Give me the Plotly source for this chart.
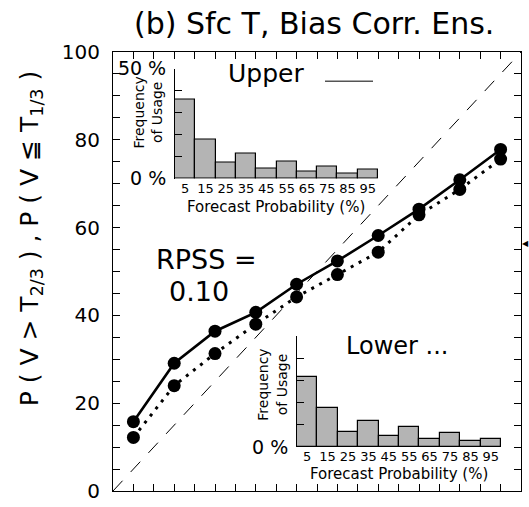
import plotly.graph_objects as go

# ---------------- data ----------------
prob_bins = [5, 15, 25, 35, 45, 55, 65, 75, 85, 95]
upper_obs = [15.8, 29.1, 36.4, 40.7, 47.1, 52.4, 58.2, 64.2, 70.9, 77.8]
lower_obs = [12.2, 24.0, 31.3, 38.0, 44.2, 49.3, 54.4, 62.9, 68.7, 75.6]
upper_freq = [36.0, 17.9, 7.2, 11.3, 4.6, 7.9, 3.2, 5.7, 2.4, 4.0]
lower_freq = [31.7, 17.8, 7.0, 12.0, 5.1, 9.1, 3.8, 6.4, 2.6, 3.9]
diag = [0, 100]
y_ticks = [0, 20, 40, 60, 80, 100]
y_ticklabels = [str(v) for v in y_ticks]
upper_freq_ticks = [0, 50]
upper_freq_labels = ["0 %", "50 %"]
lower_freq_ticks = [0]
lower_freq_labels = ["0 %"]
bin_labels = [str(v) for v in prob_bins]

W, H = 529, 507
L, R, T, B = 113, 521, 52, 502  # plot area in px


def px(x):
    return (x - L) / (R - L)


def py(y):
    return (B - y) / (B - T)


FONT = "DejaVu Sans"
fig = go.Figure()

# diagonal
fig.add_trace(go.Scatter(x=diag, y=diag, mode="lines",
                         line=dict(color="black", width=1, dash="14px,12px"),
                         xaxis="x", yaxis="y", showlegend=False))
# upper: solid
fig.add_trace(go.Scatter(x=prob_bins, y=upper_obs, mode="lines+markers",
                         line=dict(color="black", width=2.6),
                         marker=dict(size=13, color="black"),
                         xaxis="x", yaxis="y", showlegend=False))
# lower: dotted
fig.add_trace(go.Scatter(x=prob_bins, y=lower_obs, mode="lines+markers",
                         line=dict(color="black", width=3, dash="3px,6px"),
                         marker=dict(size=13, color="black"),
                         xaxis="x", yaxis="y", showlegend=False))

# histograms
bar_style = dict(color="#b4b4b4", line=dict(color="black", width=1.2))
fig.add_trace(go.Bar(x=prob_bins, y=upper_freq, width=10, marker=bar_style,
                     xaxis="x2", yaxis="y2", showlegend=False))
fig.add_trace(go.Bar(x=prob_bins, y=lower_freq, width=10, marker=bar_style,
                     xaxis="x3", yaxis="y3", showlegend=False))

main_ax = dict(showline=True, linecolor="black", linewidth=1, mirror="ticks",
               ticks="inside", ticklen=7, tickcolor="black", showgrid=False,
               zeroline=False,
               minor=dict(ticks="inside", ticklen=7, dtick=5, tickcolor="black",
                          showgrid=False))

inset_x = dict(range=[0, 100], tickvals=prob_bins, ticktext=bin_labels,
               ticks="", showline=False, showgrid=False, zeroline=False,
               tickfont=dict(family=FONT, size=13, color="black"))
inset_y = dict(range=[0, 50], ticks="inside", ticklen=7, tickcolor="black",
               showline=True, linecolor="black", linewidth=1, showgrid=False,
               zeroline=False, ticklabelstandoff=4,
               minor=dict(ticks="inside", ticklen=7, dtick=10, tick0=0,
                          tickcolor="black", showgrid=False),
               tickfont=dict(family=FONT, size=19, color="black"))

fig.update_layout(
    width=W, height=H,
    margin=dict(l=L, r=W - R, t=T, b=H - B, pad=0),
    paper_bgcolor="white", plot_bgcolor="white",
    font=dict(family=FONT, color="black"),
    bargap=0,
    xaxis=dict(range=[0, 100], dtick=5, tick0=0, showticklabels=False,
               domain=[0, 1], anchor="y", **main_ax),
    yaxis=dict(range=[0, 100], tickvals=y_ticks, ticktext=y_ticklabels,
               tickfont=dict(family=FONT, size=20, color="black"),
               ticklabelstandoff=8,
               domain=[0, 1], anchor="x", **main_ax),
    xaxis2=dict(domain=[px(175), px(378)], anchor="y2", **inset_x),
    yaxis2=dict(domain=[py(182), py(69)], anchor="x2",
                tickvals=upper_freq_ticks, ticktext=upper_freq_labels, **inset_y),
    xaxis3=dict(domain=[px(297), px(501)], anchor="y3", **inset_x),
    yaxis3=dict(domain=[py(457), py(343)], anchor="x3",
                tickvals=lower_freq_ticks, ticktext=lower_freq_labels, **inset_y),
)

annotations = [
    dict(text="(b) Sfc T, Bias Corr. Ens.", x=px(314), y=py(23), size=30),
    dict(text="P ( V > T<sub>2/3</sub> ) , P ( V ≦ T<sub>1/3</sub> )",
         x=px(31), y=py(244), size=25, angle=-90),
    dict(text="RPSS =", x=px(206), y=py(265), size=27),
    dict(text="0.10", x=px(199), y=py(297), size=27),
    dict(text="Upper", x=px(266), y=py(74), size=25),
    dict(text="Lower ...", x=px(397), y=py(353), size=24),
    dict(text="Frequency<br>of Usage", x=px(148), y=py(114), size=14, angle=-90),
    dict(text="Frequency<br>of Usage", x=px(272), y=py(393), size=14, angle=-90),
    dict(text="Forecast Probability (%)", x=px(276), y=py(211), size=15),
    dict(text="Forecast Probability (%)", x=px(399), y=py(485), size=15),
    dict(text="◀", x=px(525), y=py(248), size=8),
]
for a in annotations:
    fig.add_annotation(text=a["text"], x=a["x"], y=a["y"], xref="paper",
                       yref="paper", showarrow=False, xanchor="center",
                       yanchor="middle", textangle=a.get("angle", 0),
                       font=dict(family=FONT, size=a["size"], color="black"))

# legend sample line for "Upper"
fig.add_shape(type="line", xref="paper", yref="paper",
              x0=px(325), x1=px(373), y0=py(82), y1=py(82),
              line=dict(color="#555555", width=1.5))

fig.write_html("out.html")
